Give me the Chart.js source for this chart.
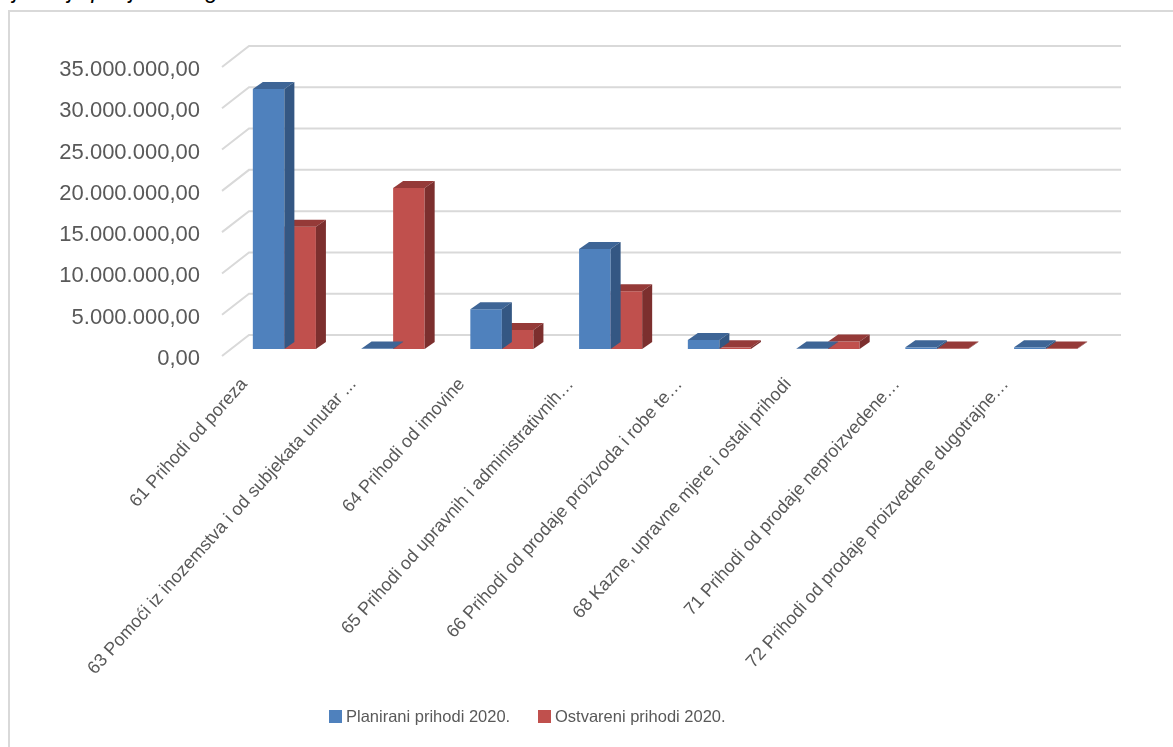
<!DOCTYPE html>
<html>
<head>
<meta charset="utf-8">
<script src="https://cdn.jsdelivr.net/npm/chart.js@4.4.0/dist/chart.umd.min.js"></script>
<style>
  body { margin: 0; background: #fff; overflow: hidden; }
  #title {
    position: absolute; left: -3px; top: -21px;
    font: italic 23px "Liberation Sans", sans-serif; line-height: 23px;
    color: #000; white-space: nowrap;
  }
  #frame {
    position: absolute; left: 8px; top: 10px; width: 1200px; height: 800px;
    border: 2px solid #d9d9d9; box-sizing: border-box;
  }
  #chart { position: absolute; left: 0; top: 0; }
  #legend {
    position: absolute; left: 329px; top: 706px; height: 20px;
    font: 16.5px "Liberation Sans", sans-serif; color: #595959; white-space: nowrap;
  }
  #legend span.item { position: absolute; top: 0; line-height: 20px; }
  #legend span.box {
    position: absolute; top: 4px; width: 13px; height: 13px;
  }
</style>
</head>
<body>
<div id="title">siječanj-lipanj 2020. godine</div>
<div id="frame"></div>
<canvas id="chart" width="1173" height="747"></canvas>
<div id="legend"></div>
<script>
// categories (account groups)
const categories = [
    "61 Prihodi od poreza",
    "63 Pomoći iz inozemstva i od subjekata unutar ...",
    "64 Prihodi od imovine",
    "65 Prihodi od upravnih i administrativnih…",
    "66 Prihodi od prodaje proizvoda i robe te…",
    "68 Kazne, upravne mjere i ostali prihodi",
    "71 Prihodi od prodaje neproizvedene…",
    "72 Prihodi od prodaje proizvedene dugotrajne…"
];
// values (kn)
const planirani = [31500000, 50000, 4800000, 12100000, 1100000, 50000, 200000, 200000];
const ostvareni = [14800000, 19500000, 2300000, 7000000, 200000, 900000, 50000, 50000];
const seriesNames = ["Planirani prihodi 2020.", "Ostvareni prihodi 2020."];
const yTicks = [0, 5000000, 10000000, 15000000, 20000000, 25000000, 30000000, 35000000];

// front, top and side colours of the 3d bars
const faceColors = [
    { front: '#4f81bd', top: '#3e6596', side: '#345783' },
    { front: '#c0504d', top: '#953a38', side: '#7c2f2e' }
];
const depthX = 10, depthY = 7;   // bar depth
const wallX = 27, wallY = 21;    // depth of the back wall
const barShiftX = 8, barShiftY = 7;

function formatHr(v){
    // 35000000 -> 35.000.000,00
    let s = Math.round(v).toString();
    s = s.replace(/\B(?=(\d{3})+(?!\d))/g, '.');
    return s + ',00';
}

// back wall gridlines with the diagonal floor-to-wall lines
const wallPlugin = {
    id: 'wall',
    beforeDatasetsDraw(chart){
        const ctx = chart.ctx;
        const y = chart.scales.y;
        const area = chart.chartArea;
        ctx.save();
        ctx.strokeStyle = '#d9d9d9';
        ctx.lineWidth = 2;
        yTicks.forEach((t) => {
            const py = y.getPixelForValue(t);
            ctx.beginPath();
            ctx.moveTo(area.left, py);
            ctx.lineTo(area.left + wallX, py - wallY);
            ctx.lineTo(area.right + wallX + 2, py - wallY);
            ctx.stroke();
        });
        ctx.restore();
        // shift bars back a bit into the depth
        ctx.save();
        ctx.translate(barShiftX, -barShiftY);
    },
    afterDatasetsDraw(chart){
        chart.ctx.restore();
    }
};

// draw side and top faces right after each dataset so the next series covers them
const barFacesPlugin = {
    id: 'barFaces',
    afterDatasetDraw(chart, args){
        const ctx = chart.ctx;
        const c = faceColors[args.index];
        args.meta.data.forEach((bar) => {
            const p = bar.getProps(['x', 'y', 'base', 'width'], true);
            const l = p.x - p.width / 2, r = p.x + p.width / 2;
            // top
            ctx.fillStyle = c.top;
            ctx.beginPath();
            ctx.moveTo(l, p.y);
            ctx.lineTo(l + depthX, p.y - depthY);
            ctx.lineTo(r + depthX, p.y - depthY);
            ctx.lineTo(r, p.y);
            ctx.closePath();
            ctx.fill();
            // side
            ctx.fillStyle = c.side;
            ctx.beginPath();
            ctx.moveTo(r, p.y);
            ctx.lineTo(r + depthX, p.y - depthY);
            ctx.lineTo(r + depthX, p.base - depthY);
            ctx.lineTo(r, p.base);
            ctx.closePath();
            ctx.fill();
        });
    }
};

// legend below the chart
const legendDiv = document.getElementById('legend');
const legendX = [0, 209];
seriesNames.forEach((name, i) => {
    const box = document.createElement('span');
    box.className = 'box';
    box.style.left = legendX[i] + 'px';
    box.style.background = faceColors[i].front;
    const txt = document.createElement('span');
    txt.className = 'item';
    txt.style.left = (legendX[i] + 17) + 'px';
    txt.innerText = name;
    legendDiv.appendChild(box);
    legendDiv.appendChild(txt);
});

new Chart(document.getElementById('chart'), {
    type: 'bar',
    data: {
        labels: categories,
        datasets: [{
            label: seriesNames[0],
            data: planirani,
            backgroundColor: faceColors[0].front
        }, {
            label: seriesNames[1],
            data: ostvareni,
            backgroundColor: faceColors[1].front
        }]
    },
    options: {
        responsive: false,
        animation: false,
        devicePixelRatio: 1,
        categoryPercentage: 0.58,
        barPercentage: 1.0,
        layout: { padding: { left: 0, right: 81, top: 67, bottom: 50 } },
        plugins: {
            tooltip: { enabled: false },
            legend: { display: false }
        },
        scales: {
            x: {
                grid: { display: false },
                border: { display: false },
                ticks: {
                    autoSkip: false, minRotation: 48, maxRotation: 48,
                    color: '#595959', padding: 10, labelOffset: -32,
                    font: { family: 'Liberation Sans', size: 18 }
                },
                afterFit(scale){ scale.height = 341; }
            },
            y: {
                min: 0, max: 35000000,
                grid: { display: false, drawTicks: false },
                border: { display: false },
                ticks: {
                    stepSize: 5000000, padding: 22, color: '#595959', labelOffset: 3,
                    font: { family: 'Liberation Sans', size: 22 },
                    callback: (v) => formatHr(v)
                },
                afterFit(scale){ scale.width = 222; }
            }
        }
    },
    plugins: [wallPlugin, barFacesPlugin]
});
</script>
</body>
</html>
